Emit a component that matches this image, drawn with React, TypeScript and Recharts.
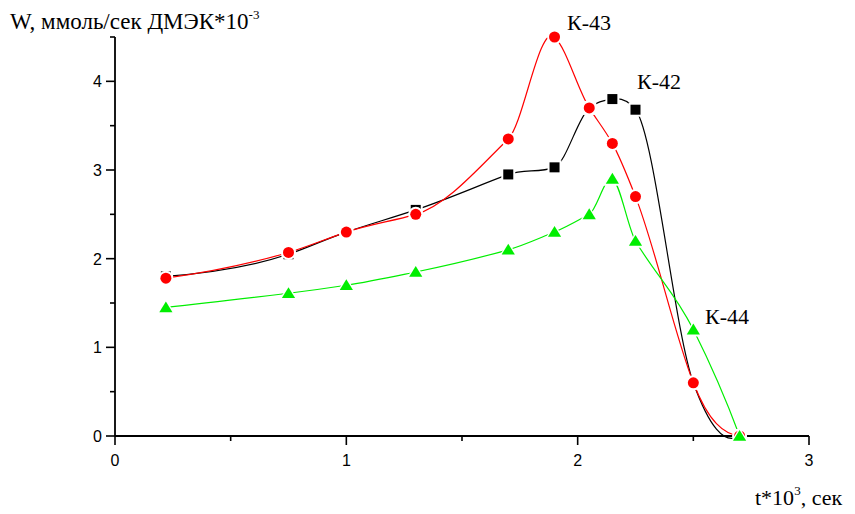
import React from 'react';
import { LineChart, Line, XAxis, YAxis } from 'recharts';

// time, t*10^3 s
const T = [0.22, 0.75, 1.0, 1.3, 1.7, 1.9, 2.05, 2.15, 2.25, 2.5, 2.7];
// W, mmol/s DMEK*10^-3
const K42 = [1.8, 2.05, 2.3, 2.55, 2.95, 3.03, 3.7, 3.8, 3.68, 0.6, 0.0];
const K43 = [1.78, 2.07, 2.3, 2.5, 3.35, 4.5, 3.7, 3.3, 2.7, 0.6, 0.0];
const K44 = [1.45, 1.61, 1.7, 1.85, 2.1, 2.3, 2.5, 2.9, 2.2, 1.2, 0.0];

const X_TICKS = [0, 0.5, 1, 1.5, 2, 2.5, 3];
const Y_TICKS = [0, 0.5, 1, 1.5, 2, 2.5, 3, 3.5, 4, 4.5];

const data = T.map((t, i) => ({ t, k42: K42[i], k43: K43[i], k44: K44[i] }));

const serif = '"Liberation Serif", "Times New Roman", serif';
const sans = '"Liberation Sans", Arial, sans-serif';

const isMajor = (v: number) => Math.abs(v - Math.round(v)) < 1e-6;

// akima spline through the points (works in pixel space, x must increase)
function akima(context: any) {
  let pts: number[][] = [];
  return {
    areaStart() {},
    areaEnd() {},
    lineStart() {
      pts = [];
    },
    point(x: number, y: number) {
      pts.push([+x, +y]);
    },
    lineEnd() {
      const n = pts.length;
      if (!n) return;
      context.moveTo(pts[0][0], pts[0][1]);
      if (n < 3) {
        for (let i = 1; i < n; i++) context.lineTo(pts[i][0], pts[i][1]);
        return;
      }
      // segment slopes, padded with two on each side
      const m: number[] = [];
      for (let i = 0; i < n - 1; i++) {
        m.push((pts[i + 1][1] - pts[i][1]) / (pts[i + 1][0] - pts[i][0]));
      }
      const mm1 = 2 * m[0] - m[1];
      const mm2 = 2 * mm1 - m[0];
      const mp1 = 2 * m[n - 2] - m[n - 3];
      const mp2 = 2 * mp1 - m[n - 2];
      const ms = [mm2, mm1, ...m, mp1, mp2];
      const tan: number[] = [];
      for (let i = 0; i < n; i++) {
        const a = ms[i];
        const b = ms[i + 1];
        const c = ms[i + 2];
        const d = ms[i + 3];
        const w1 = Math.abs(d - c);
        const w2 = Math.abs(b - a);
        tan.push(w1 + w2 < 1e-9 ? (b + c) / 2 : (w1 * b + w2 * c) / (w1 + w2));
      }
      for (let i = 0; i < n - 1; i++) {
        const [x0, y0] = pts[i];
        const [x1, y1] = pts[i + 1];
        const h = (x1 - x0) / 3;
        context.bezierCurveTo(x0 + h, y0 + tan[i] * h, x1 - h, y1 - tan[i + 1] * h, x1, y1);
      }
    },
  };
}

const XTick = (props: any) => {
  const { x, y, payload } = props;
  const major = isMajor(payload.value);
  return (
    <g>
      <line x1={x} x2={x} y1={y} y2={y + (major ? 9 : 5)} stroke="#000" strokeWidth={1.6} />
      {major && (
        <text x={x} y={y + 30} textAnchor="middle" style={{ fontFamily: sans, fontSize: 16 }} fill="#000">
          {payload.value}
        </text>
      )}
    </g>
  );
};

const YTick = (props: any) => {
  const { x, y, payload } = props;
  const major = isMajor(payload.value);
  return (
    <g>
      <line x1={x - (major ? 9 : 5)} x2={x} y1={y} y2={y} stroke="#000" strokeWidth={1.6} />
      {major && (
        <text x={x - 13} y={y + 6} textAnchor="end" style={{ fontFamily: sans, fontSize: 16 }} fill="#000">
          {payload.value}
        </text>
      )}
    </g>
  );
};

const SquareDot = (props: any) => {
  const { cx, cy, index } = props;
  return (
    <g key={`s${index}`}>
      <rect x={cx - 7} y={cy - 7} width={14} height={14} fill="#fff" />
      <rect x={cx - 5} y={cy - 5} width={10} height={10} fill="#000" />
    </g>
  );
};

const CircleDot = (props: any) => {
  const { cx, cy, index } = props;
  return (
    <g key={`c${index}`}>
      <circle cx={cx} cy={cy} r={7.5} fill="#fff" />
      <circle cx={cx} cy={cy} r={5.5} fill="#ff0000" />
    </g>
  );
};

const TriDot = (props: any) => {
  const { cx, cy, index } = props;
  const pts = (s: number) => `${cx},${cy - s} ${cx + s * 1.1},${cy + s * 0.8} ${cx - s * 1.1},${cy + s * 0.8}`;
  return (
    <g key={`t${index}`}>
      <polygon points={pts(8.5)} fill="#fff" />
      <polygon points={pts(6)} fill="#00ee00" />
    </g>
  );
};

const labelStyle = { fontFamily: serif, fontSize: 22 };

export default function App() {
  return (
    <div style={{ position: 'relative', width: 855, height: 514, background: '#fff' }}>
      <style>{'body{margin:0}'}</style>
      <LineChart width={855} height={514} data={data} margin={{ top: 37, right: 46, left: 55, bottom: 48 }}>
        <XAxis
          type="number"
          dataKey="t"
          domain={[0, 3]}
          ticks={X_TICKS}
          interval={0}
          tickSize={0}
          tickMargin={0}
          tickLine={false}
          tick={<XTick />}
          axisLine={{ stroke: '#000', strokeWidth: 1.8 }}
          height={30}
        />
        <YAxis
          type="number"
          domain={[0, 4.5]}
          ticks={Y_TICKS}
          interval={0}
          tickSize={0}
          tickMargin={0}
          tickLine={false}
          tick={<YTick />}
          axisLine={{ stroke: '#000', strokeWidth: 1.8 }}
          width={60}
        />
        <Line type={akima as any} dataKey="k42" stroke="#000" strokeWidth={1.2} dot={SquareDot} isAnimationActive={false} />
        <Line type={akima as any} dataKey="k43" stroke="#ff0000" strokeWidth={1.2} dot={CircleDot} isAnimationActive={false} />
        <Line type={akima as any} dataKey="k44" stroke="#00ee00" strokeWidth={1.2} dot={TriDot} isAnimationActive={false} />
      </LineChart>
      <svg width={855} height={514} style={{ position: 'absolute', left: 0, top: 0, pointerEvents: 'none' }}>
        <text x={10} y={29} style={{ fontFamily: serif, fontSize: 23 }} fill="#000">
          W, ммоль/сек ДМЭК*10<tspan style={{ fontSize: 13 }} dy={-10}>-3</tspan>
        </text>
        <text x={567} y={30} style={labelStyle} fill="#000">К-43</text>
        <text x={637} y={89} style={labelStyle} fill="#000">К-42</text>
        <text x={705} y={324} style={labelStyle} fill="#000">К-44</text>
        <text x={755} y={505} style={labelStyle} fill="#000">
          t*10<tspan style={{ fontSize: 13 }} dy={-10}>3</tspan>
          <tspan dy={10}>, сек</tspan>
        </text>
      </svg>
    </div>
  );
}
